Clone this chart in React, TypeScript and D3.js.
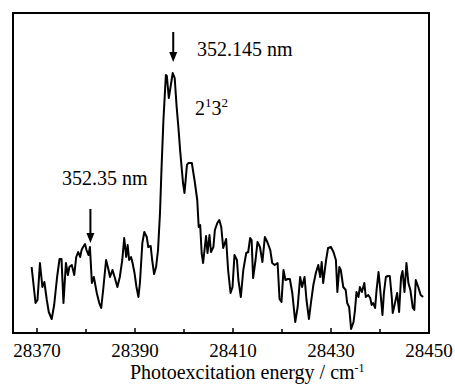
import React from "react";
import * as d3 from "d3";

// photoexcitation energy (cm-1) and ion signal (arbitrary units)
const energy = [
  28368.9, 28369.7, 28370.1, 28370.6, 28371.1, 28371.5, 28372.0, 28372.4, 28373.0, 28373.5,
  28374.1, 28374.6, 28375.0, 28375.4, 28375.9, 28376.3, 28376.6, 28377.1, 28377.6, 28378.0,
  28378.4, 28378.8, 28379.1, 28379.4, 28379.8, 28380.1, 28380.5, 28380.8, 28381.2, 28381.6,
  28382.2, 28382.7, 28383.1, 28383.5, 28384.1, 28384.6, 28384.9, 28385.4, 28385.9, 28386.4,
  28386.9, 28387.4, 28387.8, 28388.2, 28388.5, 28388.8, 28389.2, 28389.5, 28389.9, 28390.3,
  28390.7, 28391.0, 28391.5, 28391.9, 28392.4, 28392.7, 28393.2, 28393.5, 28393.9, 28394.3,
  28394.7, 28395.1, 28395.4, 28395.8, 28396.3, 28396.5, 28396.9, 28397.7, 28398.1, 28398.5,
  28398.9, 28399.2, 28399.8, 28400.1, 28400.6, 28400.9, 28401.6, 28402.2, 28402.7, 28403.0,
  28403.3, 28403.6, 28403.9, 28404.5, 28404.8, 28405.2, 28405.5, 28406.0, 28406.3, 28406.8,
  28407.2, 28407.6, 28408.0, 28408.6, 28409.0, 28409.5, 28409.9, 28410.3, 28410.8, 28411.1,
  28411.6, 28412.1, 28412.7, 28413.1, 28413.5, 28413.8, 28414.1, 28414.6, 28415.0, 28415.5,
  28416.0, 28416.5, 28417.0, 28417.6, 28418.0, 28418.5, 28419.1, 28419.5, 28419.9, 28420.3,
  28420.7, 28421.2, 28421.6, 28422.1, 28422.7, 28423.2, 28423.7, 28424.1, 28424.6, 28425.0,
  28425.5, 28425.9, 28426.4, 28426.9, 28427.4, 28427.8, 28428.1, 28428.4, 28429.0, 28429.4,
  28430.0, 28430.5, 28431.0, 28431.3, 28431.7, 28432.0, 28432.5, 28433.0, 28433.3, 28433.7,
  28434.1, 28434.6, 28434.9, 28435.2, 28435.6, 28435.9, 28436.3, 28436.8, 28437.1, 28437.6,
  28438.0, 28438.3, 28438.6, 28439.0, 28439.3, 28439.7, 28440.0, 28440.5, 28440.8, 28441.2,
  28441.6, 28442.0, 28442.4, 28442.6, 28443.1, 28443.5, 28443.9, 28444.3, 28444.6, 28445.0,
  28445.4, 28445.8, 28446.2, 28446.7, 28447.0, 28447.3, 28447.8, 28448.3, 28448.8,
];
const signal = [
  66, 30, 33, 70, 46, 51, 33, 21, 14, 28,
  56, 74, 74, 30, 70, 58, 66, 68, 58, 76,
  81, 76, 83, 86, 89, 83, 78, 86, 50, 56,
  40, 30, 25, 43, 73, 63, 56, 63, 55, 46,
  56, 73, 95, 76, 88, 73, 76, 70, 60, 46,
  36, 50, 90, 101, 96, 86, 87, 73, 59, 66,
  83, 120, 163, 213, 258, 257, 235, 260, 255, 226,
  203, 183, 150, 140, 168, 170, 170, 151, 133, 106,
  108, 80, 70, 97, 80, 98, 81, 86, 103, 110,
  113, 106, 85, 94, 63, 40, 46, 78, 73, 53,
  36, 63, 80, 81, 95, 93, 55, 73, 91, 86,
  71, 96, 91, 83, 70, 68, 70, 34, 31, 63,
  53, 54, 54, 40, 11, 26, 56, 46, 56, 33,
  14, 30, 48, 60, 68, 56, 71, 50, 73, 85,
  86, 81, 73, 41, 66, 63, 46, 43, 30, 26,
  4, 11, 23, 41, 36, 46, 41, 50, 36, 38,
  35, 28, 30, 25, 43, 61, 46, 18, 40, 56,
  57, 57, 36, 20, 31, 40, 21, 56, 62, 41,
  70, 50, 43, 25, 23, 53, 46, 38, 36,
];

const majorTicks = [28370, 28390, 28410, 28430, 28450];
const minorTicks = [28380, 28400, 28420, 28440];

// arrow annotations: position on the energy axis, signal span of the arrow
const arrowEnergy = [28397.8, 28380.9];
const arrowTop = [301, 124];
const arrowBottom = [271, 90];

const W = 455;
const H = 389;
const left = 13;
const right = 429;
const top = 13;
const bottom = 333;
const font = '"Liberation Serif", "DejaVu Serif", serif';

export default function App() {
  const x = d3.scaleLinear().domain([28365.1, 28450]).range([left, right]);
  const y = d3.scaleLinear().domain([0, 320]).range([bottom, top]);

  const pts: [number, number][] = energy.map((e, i) => [e, signal[i]]);
  const line = d3
    .line<[number, number]>()
    .x((d) => x(d[0]))
    .y((d) => y(d[1]));

  return (
    <svg
      width={W}
      height={H}
      style={{ position: "absolute", left: 0, top: 0, background: "#fff", fontFamily: font }}
    >
      <path d={line(pts) || ""} fill="none" stroke="#000" strokeWidth={2} strokeLinejoin="round" />

      {/* frame */}
      <rect
        x={left}
        y={top}
        width={right - left}
        height={bottom - top}
        fill="none"
        stroke="#000"
        strokeWidth={2}
      />

      {/* ticks point inward */}
      {majorTicks.map((t) => (
        <g key={t}>
          <line x1={x(t)} x2={x(t)} y1={bottom} y2={bottom - 5} stroke="#000" strokeWidth={1.5} />
          <text x={x(t)} y={357} textAnchor="middle" fontSize={19}>
            {t}
          </text>
        </g>
      ))}
      {minorTicks.map((t) => (
        <line key={t} x1={x(t)} x2={x(t)} y1={bottom} y2={bottom - 4} stroke="#000" strokeWidth={1.5} />
      ))}

      <text x={130} y={379} fontSize={20}>
        Photoexcitation energy / cm
        <tspan fontSize={12} dy={-7}>
          -1
        </tspan>
      </text>

      {/* arrows */}
      {arrowEnergy.map((e, i) => {
        const ax = x(e);
        const y0 = y(arrowTop[i]);
        const y1 = y(arrowBottom[i]);
        return (
          <g key={e}>
            <line x1={ax} x2={ax} y1={y0} y2={y1 - 8} stroke="#000" strokeWidth={2} />
            <path d={`M${ax - 4},${y1 - 10}L${ax + 4},${y1 - 10}L${ax},${y1}Z`} fill="#000" />
          </g>
        );
      })}

      <text x={197} y={56} fontSize={20}>
        352.145 nm
      </text>
      <text x={62} y={185} fontSize={20}>
        352.35 nm
      </text>
      <text x={195} y={115} fontSize={20}>
        2
        <tspan fontSize={13} dy={-8}>
          1
        </tspan>
        <tspan dy={8}>3</tspan>
        <tspan fontSize={13} dy={-8}>
          2
        </tspan>
      </text>
    </svg>
  );
}
